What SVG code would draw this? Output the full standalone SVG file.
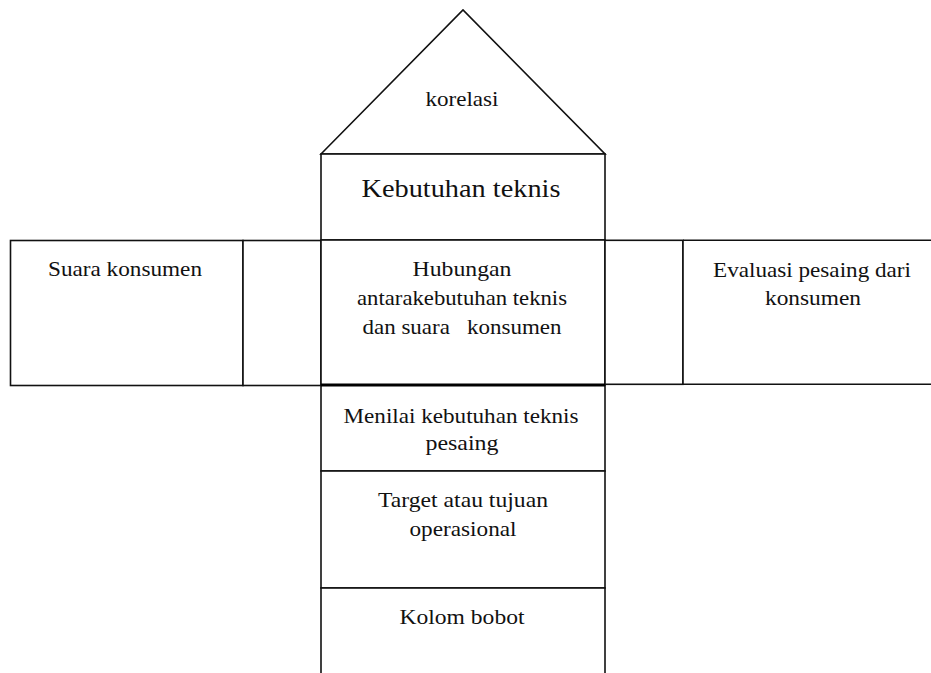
<svg xmlns="http://www.w3.org/2000/svg" width="931" height="673" viewBox="0 0 931 673">
  <style>
    .box { fill: #fff; stroke: #111; stroke-width: 1.6; }
    .ln { stroke: #111; stroke-width: 1.6; fill: none; }
    .thick { stroke: #000; stroke-width: 3.2; }
    text { font-family: "Liberation Serif", "Times New Roman", serif; font-size: 22px; fill: #111; text-anchor: middle; }
    .big { font-size: 26px; }
  </style>
  <rect x="0" y="0" width="931" height="673" fill="#fff"/>

  <!-- roof: correlation matrix -->
  <g id="korelasi">
    <polygon class="box" points="321,154 463,10 605,154"/>
    <text x="462" y="106" textLength="73" lengthAdjust="spacingAndGlyphs">korelasi</text>
  </g>

  <!-- technical requirements -->
  <g id="kebutuhan-teknis">
    <rect class="box" x="321" y="154" width="284" height="86"/>
    <text class="big" x="461" y="197" textLength="199" lengthAdjust="spacingAndGlyphs">Kebutuhan teknis</text>
  </g>

  <!-- customer voice -->
  <g id="suara-konsumen">
    <rect class="box" x="10.5" y="240.5" width="232.5" height="145"/>
    <text x="125" y="276" textLength="154" lengthAdjust="spacingAndGlyphs">Suara konsumen</text>
  </g>
  <g id="kolom-kiri">
    <rect class="box" x="243" y="240.5" width="78" height="145"/>
  </g>

  <!-- relationship matrix -->
  <g id="hubungan">
    <rect class="box" x="321" y="240" width="284" height="145"/>
    <text x="462" y="276" textLength="99" lengthAdjust="spacingAndGlyphs">Hubungan</text>
    <text x="462" y="305" textLength="210" lengthAdjust="spacingAndGlyphs">antarakebutuhan teknis</text>
    <text x="462" y="334" textLength="199" lengthAdjust="spacingAndGlyphs" xml:space="preserve">dan suara   konsumen</text>
  </g>

  <g id="kolom-kanan">
    <rect class="box" x="605" y="240.3" width="78" height="144"/>
  </g>

  <!-- competitive evaluation (open on the right) -->
  <g id="evaluasi-pesaing">
    <rect x="683" y="240.3" width="260" height="144" fill="#fff"/>
    <path class="ln" d="M683,240.3 H931 M683,240.3 V384.3 M683,384.3 H931"/>
    <text x="812" y="277" textLength="198" lengthAdjust="spacingAndGlyphs">Evaluasi pesaing dari</text>
    <text x="813" y="305" textLength="96" lengthAdjust="spacingAndGlyphs">konsumen</text>
  </g>

  <!-- lower column -->
  <g id="menilai-pesaing">
    <rect class="box" x="321" y="385" width="284" height="86"/>
    <text x="461" y="423" textLength="235" lengthAdjust="spacingAndGlyphs">Menilai kebutuhan teknis</text>
    <text x="462" y="450" textLength="73" lengthAdjust="spacingAndGlyphs">pesaing</text>
  </g>
  <g id="target">
    <rect class="box" x="321" y="471" width="284" height="117"/>
    <text x="463" y="507" textLength="170" lengthAdjust="spacingAndGlyphs">Target atau tujuan</text>
    <text x="463" y="536" textLength="107" lengthAdjust="spacingAndGlyphs">operasional</text>
  </g>
  <g id="kolom-bobot">
    <rect class="box" x="321" y="588" width="284" height="100"/>
    <text x="462" y="624" textLength="125" lengthAdjust="spacingAndGlyphs">Kolom bobot</text>
  </g>

  <!-- heavy divider under the relationship matrix -->
  <g id="connectors">
    <line class="thick" x1="321" y1="385" x2="605" y2="385"/>
  </g>
</svg>
